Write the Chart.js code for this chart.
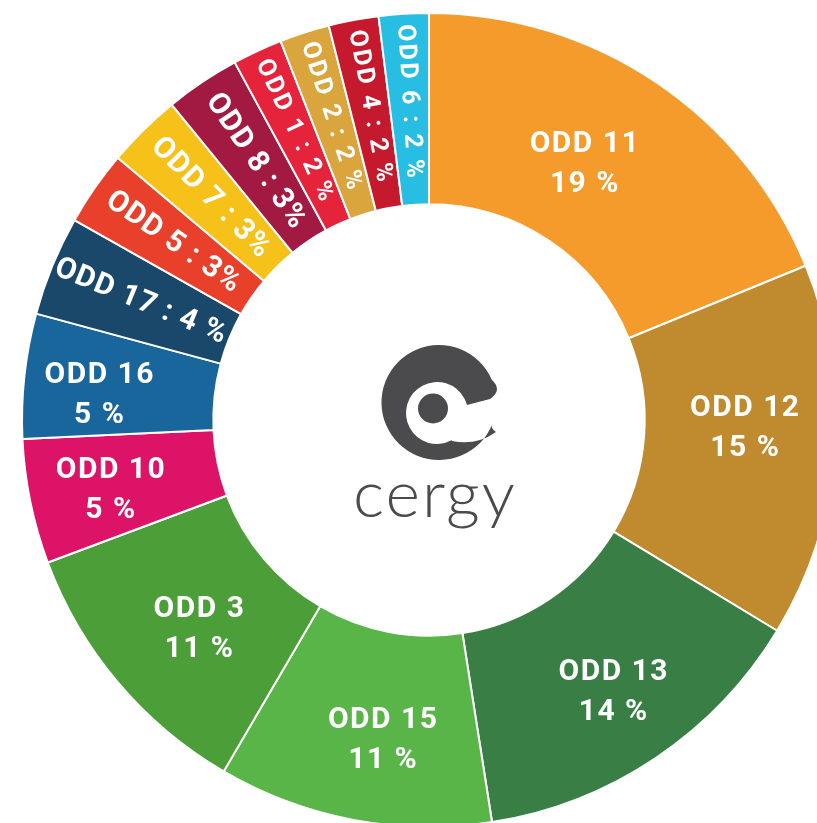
<!DOCTYPE html>
<html>
<head>
<meta charset="utf-8">
<script src="https://cdn.jsdelivr.net/npm/chart.js@4"></script>
<style>
    html, body { margin: 0; padding: 0; background: #fff; overflow: hidden; width: 817px; height: 823px; }
    #wrap { position: absolute; left: 0; top: 12px; width: 858px; height: 816px; }
</style>
</head>
<body>
<div id="wrap"><canvas id="odd" width="858" height="816"></canvas></div>
<script>
// ODD shares, clockwise from the top
var categories = ['ODD 11', 'ODD 12', 'ODD 13', 'ODD 15', 'ODD 3', 'ODD 10', 'ODD 16',
    'ODD 17', 'ODD 5', 'ODD 7', 'ODD 8', 'ODD 1', 'ODD 2', 'ODD 4', 'ODD 6'];
var values = [19, 15, 14, 11, 11, 5, 5, 4, 3, 3, 3, 2, 2, 2, 2];
var pctLabels = ['19 %', '15 %', '14 %', '11 %', '11 %', '5 %', '5 %', '4 %',
    '3%', '3%', '3%', '2 %', '2 %', '2 %', '2 %'];
var colors = ['#F49B2B', '#BF8B2E', '#387E45', '#59B548', '#4C9F38', '#DD1367', '#19669C',
    '#19486A', '#E9402B', '#F6C118', '#A21942', '#E5243B', '#D9A53C', '#C5192D', '#28BDE2'];

// hand placement of the two-line labels: [angle shift in degrees, radius shift in px]
var labelShift = [[-2.7, -10], [-3.2, 5], [-0.5, 16], [-2.5, 10], [-2, -2], [-0.6, 14], [-1.6, 19]];

// white labels inside the ring
var sliceLabels = {
    id: 'sliceLabels',
    afterDatasetsDraw: function (chart) {
        var ctx = chart.ctx;
        var meta = chart.getDatasetMeta(0);
        meta.data.forEach(function (arc, i) {
            var p = arc.getProps(['x', 'y', 'startAngle', 'endAngle', 'innerRadius', 'outerRadius'], true);
            var mid = (p.startAngle + p.endAngle) / 2;
            var r = (p.innerRadius + p.outerRadius) / 2;
            ctx.save();
            ctx.fillStyle = '#fff';
            ctx.textAlign = 'center';
            ctx.textBaseline = 'middle';
            if (values[i] >= 5) {
                var s = labelShift[i] || [0, 0];
                var a = mid + s[0] * Math.PI / 180;
                var tx = p.x + Math.cos(a) * (r + s[1]);
                var ty = p.y + Math.sin(a) * (r + s[1]);
                ctx.font = 'bold 30px Roboto';
                ctx.letterSpacing = '1.5px';
                ctx.fillText(categories[i], tx, ty - 18);
                ctx.fillText(pctLabels[i], tx, ty + 22);
            } else {
                var small = values[i] <= 2;
                var rr = r + (small ? 7 : 0);
                var tx = p.x + Math.cos(mid) * rr;
                var ty = p.y + Math.sin(mid) * rr;
                ctx.translate(tx, ty);
                ctx.rotate(mid + Math.PI);
                ctx.font = small ? 'bold 25px Roboto' : 'bold 30px Roboto';
                ctx.letterSpacing = small ? '2.5px' : '1px';
                ctx.fillText(categories[i] + ' : ' + pctLabels[i], 0, 0);
            }
            ctx.restore();
        });
    }
};

// cergy logo in the hole
var centerLogo = {
    id: 'centerLogo',
    afterDraw: function (chart) {
        var ctx = chart.ctx;
        var meta = chart.getDatasetMeta(0);
        var ox = meta.data[0].x, oy = meta.data[0].y;
        var d = Math.PI / 180;
        ctx.save();
        ctx.translate(ox - 429, oy - 420);
        ctx.fillStyle = '#4B4B4D';
        ctx.beginPath();
        ctx.moveTo(491.8, 379.7);
        ctx.arc(439, 402.5, 57.5, -23.4 * d, 22 * d, true);
        ctx.quadraticCurveTo(490, 428, 496, 432);
        ctx.quadraticCurveTo(476, 446, 452, 441);
        ctx.arc(437, 413, 31, 62 * d, 345 * d, false);
        ctx.lineTo(490, 399);
        ctx.quadraticCurveTo(503, 390, 491.8, 379.7);
        ctx.closePath();
        ctx.fill();
        ctx.beginPath();
        ctx.arc(433, 408.5, 15, 0, Math.PI * 2);
        ctx.fill();
        ctx.font = '300 66px Lato';
        ctx.letterSpacing = '2px';
        ctx.textAlign = 'center';
        ctx.textBaseline = 'alphabetic';
        ctx.fillText('cergy', 435, 517);
        ctx.restore();
    }
};

const ctx = document.getElementById('odd').getContext('2d');
const chart = new Chart(ctx, {
    type: 'doughnut',
    data: {
        labels: categories,
        datasets: [{
            data: values,
            backgroundColor: colors,
            borderColor: '#fff',
            borderWidth: 2
        }]
    },
    options: {
        responsive: false,
        animation: false,
        cutout: '53%',
        layout: { padding: 0 },
        plugins: {
            legend: { display: false },
            tooltip: { enabled: false }
        }
    },
    plugins: [sliceLabels, centerLogo]
});
</script>
</body>
</html>
